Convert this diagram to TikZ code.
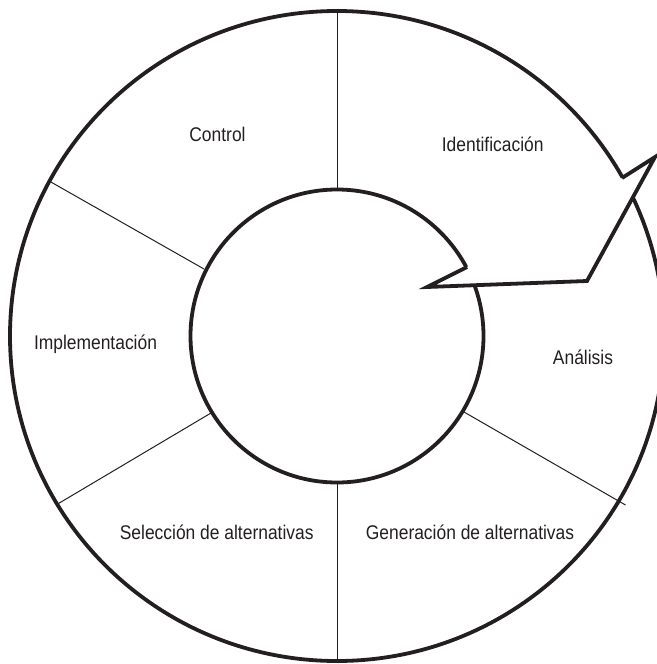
\documentclass[tikz,border=0pt]{standalone}
\usepackage{fontspec}
\setmainfont[FakeStretch=0.88]{Liberation Sans}
\definecolor{ink}{HTML}{231F20}
\begin{document}
\begin{tikzpicture}[x=1pt,y=-1pt,
  ring/.style={line width=3.8pt, draw=ink},
  divider/.style={line width=1pt, draw=ink},
  arrowline/.style={line width=3.8pt, draw=ink, line join=miter},
  lbl/.style={font=\fontsize{19.8}{22}\selectfont, text=ink, anchor=base, inner sep=0pt}]
\useasboundingbox (0,0) rectangle (656,664);
\coordinate (c) at (337,336);
% rings
\draw[ring] (c) ellipse [x radius=327, y radius=325];
\draw[ring] (c) circle [radius=146.5];
% divider end points
\coordinate (t1) at (337,189.5); \coordinate (t2) at (337,11);
\coordinate (b1) at (337,482.5); \coordinate (b2) at (337,661);
\coordinate (ul1) at (204,269);  \coordinate (ul2) at (50,181.5);
\coordinate (ll1) at (211,413);  \coordinate (ll2) at (58.5,503.5);
\coordinate (lr1) at (464,412);  \coordinate (lr2) at (625.5,505);
\draw[divider] (t1) -- (t2);
\draw[divider] (b1) -- (b2);
\draw[divider] (ul1) -- (ul2);
\draw[divider] (ll1) -- (ll2);
\draw[divider] (lr1) -- (lr2);
% arrow
\coordinate (on) at (622,178);
\coordinate (tip) at (655,157);
\coordinate (cr) at (587,281);
\coordinate (lp) at (427,287);
\coordinate (in) at (467,267);
\fill[white] (in) -- (lp) -- (cr) -- (tip) -- (on) -- cycle;
\draw[arrowline] (on) -- (tip) -- (cr) -- (lp) -- (in);
% labels
\node[lbl] (control) at (217.5,141) {Control};
\node[lbl] (ident) at (492.7,151) {Identificación};
\node[lbl] (impl) at (95.5,349) {Implementación};
\node[lbl] (anal) at (583,364) {Análisis};
\node[lbl] (sel) at (216.7,539) {Selección de alternativas};
\node[lbl] (gen) at (470,539) {Generación de alternativas};
\end{tikzpicture}
\end{document}
